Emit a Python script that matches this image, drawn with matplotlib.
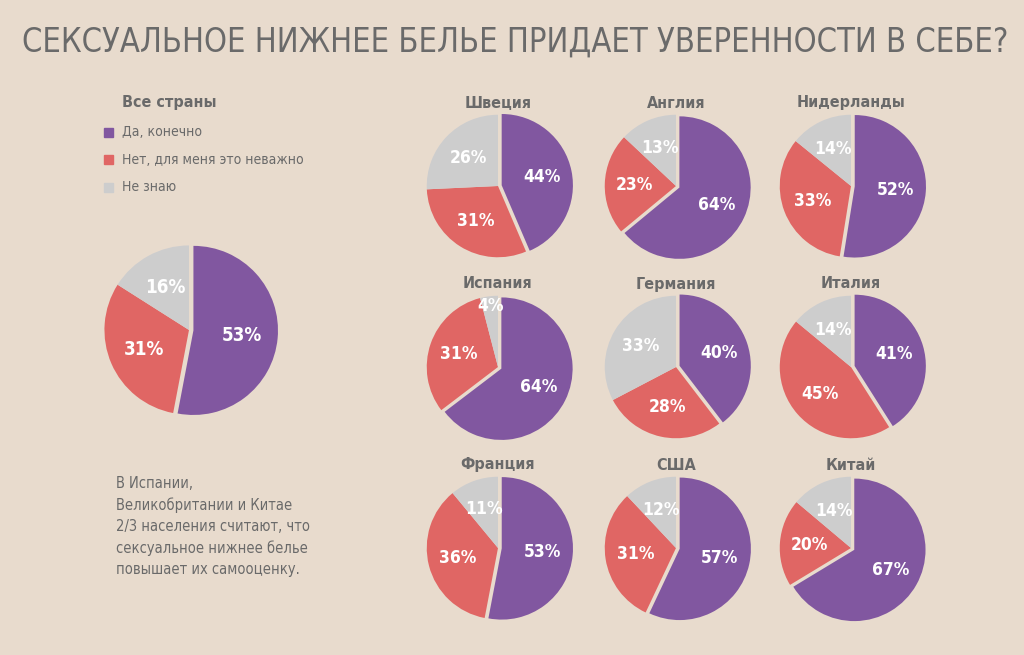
import numpy as np
import matplotlib
matplotlib.use('Agg')
import matplotlib.pyplot as plt

W, H = 1024, 655
BG = '#e8dbcd'
TXT = '#6a6a6a'
colors = ['#8157a0', '#e06664', '#cdcdcd']

title = 'СЕКСУАЛЬНОЕ НИЖНЕЕ БЕЛЬЕ ПРИДАЕТ УВЕРЕННОСТИ В СЕБЕ?'
legend_title = 'Все страны'
answers = ['Да, конечно', 'Нет, для меня это неважно', 'Не знаю']
note = ('В Испании,\nВеликобритании и Китае\n2/3 населения считают, что\n'
        'сексуальное нижнее белье\nповышает их самооценку.')

all_countries = [53, 31, 16]

countries = ['Швеция', 'Англия', 'Нидерланды',
             'Испания', 'Германия', 'Италия',
             'Франция', 'США', 'Китай']
yes = [44, 64, 52, 64, 40, 41, 53, 57, 67]
no = [31, 23, 33, 31, 28, 45, 36, 31, 20]
dont_know = [26, 13, 14, 4, 33, 14, 11, 12, 14]

plt.rcParams['font.family'] = ['DejaVu Sans']
plt.rcParams['font.stretch'] = 'condensed'

fig = plt.figure(figsize=(W / 100, H / 100), dpi=100, facecolor=BG)


def draw_pie(cx, cy, r, values, fs):
    # axes placed in pixel coords (origin top-left)
    ax = fig.add_axes([(cx - r) / W, 1 - (cy + r) / H, 2 * r / W, 2 * r / H])
    ax.set_facecolor('none')
    wedges, _ = ax.pie(values, colors=colors, startangle=90, counterclock=False,
                       explode=[0.05, 0, 0], radius=0.95,
                       wedgeprops=dict(linewidth=0))
    for w, v in zip(wedges, values):
        ang = np.deg2rad((w.theta1 + w.theta2) / 2)
        d = 0.55 if v > 8 else 0.82
        ax.text(w.center[0] + d * np.cos(ang), w.center[1] + d * np.sin(ang),
                f'{v}%', ha='center', va='center', color='white',
                fontsize=fs, fontweight='bold')
    ax.set_xlim(-1, 1)
    ax.set_ylim(-1, 1)
    ax.set_aspect('equal')
    ax.axis('off')
    return ax


# title, scaled to fill the same width as the reference
t = fig.text(22 / W, 1 - 42 / H, title, fontsize=30, color=TXT, va='center', ha='left')
fig.canvas.draw()
tw = t.get_window_extent().width
t.set_fontsize(30 * 986 / tw)

# legend
fig.text(122 / W, 1 - 103 / H, legend_title, fontsize=11.5, fontweight='bold',
         color=TXT, va='center')
for i, (lab, c) in enumerate(zip(answers, colors)):
    y = 1 - (132 + i * 27.5) / H
    fig.patches.append(plt.Rectangle((104 / W, y - 4.5 / H), 9 / W, 9 / H,
                                     transform=fig.transFigure, color=c))
    fig.text(122 / W, y, lab, fontsize=10, color=TXT, va='center')

# main pie
draw_pie(189, 330, 89, all_countries, 13.5)

# note
fig.text(116 / W, 1 - 476 / H, note, fontsize=10.5, color=TXT, va='top',
         linespacing=1.5)

# country pies
xs = [498, 676, 851]
ys = [186, 367, 548]
for i, name in enumerate(countries):
    cx, cy = xs[i % 3], ys[i // 3]
    draw_pie(cx, cy, 75, [yes[i], no[i], dont_know[i]], 12.5)
    fig.text(cx / W, 1 - (cy - 83) / H, name, fontsize=11.5, fontweight='bold',
             color=TXT, ha='center', va='center')

fig.savefig('out.png', dpi=100, facecolor=BG)
